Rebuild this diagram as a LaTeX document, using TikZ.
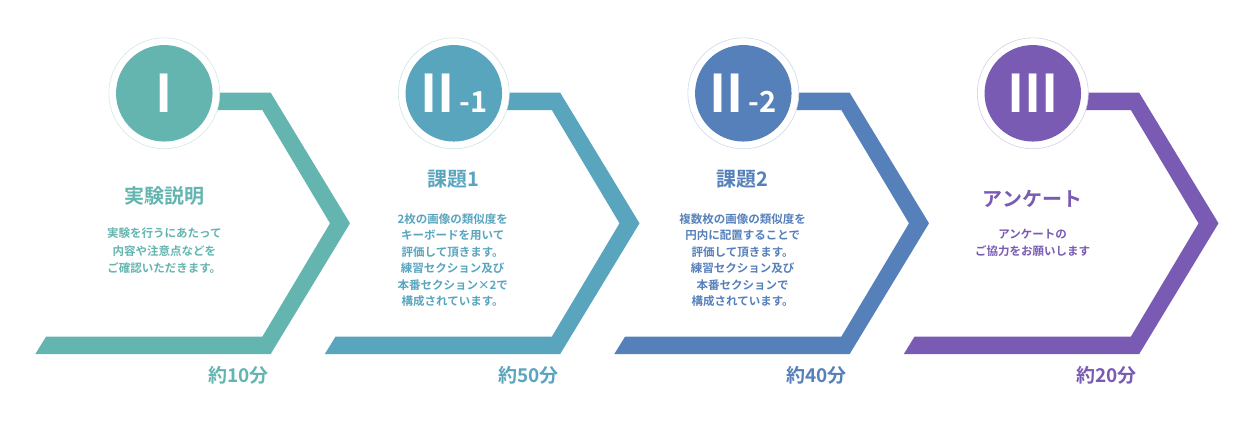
\documentclass[tikz,border=0pt]{standalone}
\usepackage{fontspec}
\setmainfont{Noto Sans CJK JP}[BoldFont=* Bold]
\definecolor{cA}{HTML}{64B5B0}
\definecolor{cB}{HTML}{5AA5BE}
\definecolor{cC}{HTML}{5680BA}
\definecolor{cD}{HTML}{7A5BB4}
\tikzset{
  ring/.style={circle, fill=white, draw=#1!30, line width=0.6pt, minimum size=111pt, inner sep=0pt},
  disc/.style={circle, fill=#1, text=white, minimum size=96.5pt, inner sep=0pt, font=\fontsize{52}{52}\selectfont\bfseries},
  ttl/.style={text=#1, inner sep=0pt, font=\fontsize{20}{20}\selectfont\bfseries},
  body/.style={text=#1, inner sep=0pt, align=center},
  tim/.style={text=#1, inner sep=0pt, font=\fontsize{19}{19}\selectfont\bfseries}
}
\newcommand{\bandshape}[2]{%
  \fill[#2] (#1,92.7) -- (#1+106.4,92.7) -- (#1+185.7,223.3) -- (#1+106.4,354)
    -- (#1-129,354) -- (#1-118.3,336.7) -- (#1+98,336.7) -- (#1+165.7,223.3)
    -- (#1+98,110) -- (#1,110) -- cycle;}
\newcommand{\sub}[1]{{\fontsize{29}{29}\selectfont\bfseries\,#1}}
\begin{document}
\begin{tikzpicture}[x=1pt,y=-1pt]
\useasboundingbox (0,0) rectangle (1244,423);
% bands
\bandshape{164.3}{cA}
\bandshape{453.8}{cB}
\bandshape{743.3}{cC}
\bandshape{1032.8}{cD}
% circles
\node[ring=cA] (r1) at (164.3,93.3) {};
\node[disc=cA] (n1) at (164.3,93.3) {I};
\node[ring=cB] (r2) at (453.8,93.3) {};
\node[disc=cB] (n2) at (453.8,93.3) {II\sub{-1}};
\node[ring=cC] (r3) at (743.3,93.3) {};
\node[disc=cC] (n3) at (743.3,93.3) {II\sub{-2}};
\node[ring=cD] (r4) at (1032.8,93.3) {};
\node[disc=cD] (n4) at (1032.8,93.3) {III};
% titles
\node[ttl=cA] (t1) at (164.3,195.7) {実験説明};
\node[ttl=cB] (t2) at (453.3,179) {課題1};
\node[ttl=cC] (t3) at (742.8,179) {課題2};
\node[ttl=cD] (t4) at (1032.5,199) {アンケート};
% bodies
\node[body=cA, font=\fontsize{11.5}{17.5}\selectfont\bfseries] (b1) at (164.3,250.7)
  {実験を行うにあたって\\内容や注意点などを\\ご確認いただきます。};
\node[body=cB, font=\fontsize{11.5}{16.5}\selectfont\bfseries] (b2) at (452.7,260.4)
  {2枚の画像の類似度を\\キーボードを用いて\\評価して頂きます。\\練習セクション及び\\本番セクション×2で\\構成されています。};
\node[body=cC, font=\fontsize{11.5}{16.5}\selectfont\bfseries] (b3) at (742.7,260.4)
  {複数枚の画像の類似度を\\円内に配置することで\\評価して頂きます。\\練習セクション及び\\本番セクションで\\構成されています。};
\node[body=cD, font=\fontsize{11.5}{17}\selectfont\bfseries] (b4) at (1032.7,242.5)
  {アンケートの\\ご協力をお願いします};
% times
\node[tim=cA] (m1) at (238.3,375) {約10分};
\node[tim=cB] (m2) at (528.3,375) {約50分};
\node[tim=cC] (m3) at (816.7,375) {約40分};
\node[tim=cD] (m4) at (1106.7,375) {約20分};
\end{tikzpicture}
\end{document}
